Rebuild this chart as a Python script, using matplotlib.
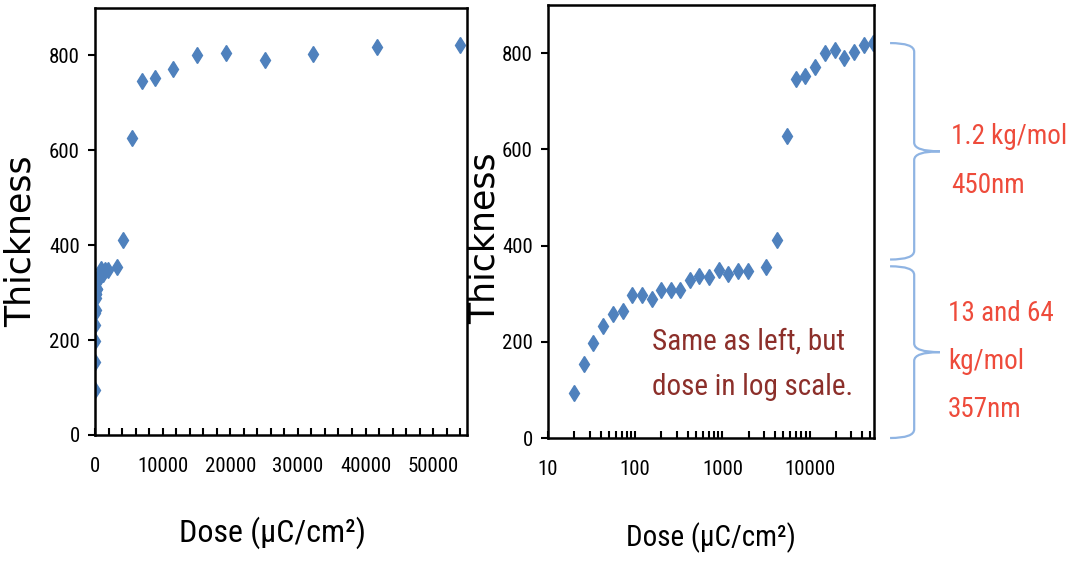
import numpy as np
from matplotlib import pyplot as plt
from matplotlib import font_manager
from matplotlib.font_manager import FontProperties
from matplotlib.ft2font import FT2Font
from matplotlib.path import Path
from matplotlib.patches import PathPatch
from matplotlib.ticker import MultipleLocator, FixedLocator, LogLocator, NullFormatter
from matplotlib.transforms import blended_transform_factory

# dose (uC/cm^2) and remaining film thickness (nm)
dose = [20, 26, 33, 43, 56, 72, 92, 120, 155, 200, 255, 330, 425, 545, 700,
        910, 1170, 1500, 1950, 3200, 4200, 5450, 6950, 8900, 11600, 15100,
        19400, 25100, 32300, 41700, 54000]
thickness = [94, 153, 198, 232, 257, 264, 298, 298, 288, 307, 307, 307, 328,
             337, 334, 350, 340, 347, 347, 355, 411, 627, 746, 752, 772, 801,
             806, 791, 802, 818, 821]

y_ticks = [0, 200, 400, 600, 800]
lin_ticks = [0, 10000, 20000, 30000, 40000, 50000]
log_ticks = [10, 100, 1000, 10000]

# step heights named in the side notes
low_step = 357
high_step = 450
low_note = "13 and 64\nkg/mol\n357nm"
high_note = "1.2 kg/mol\n450nm"

blue = "#4F81BD"
brace_blue = "#8FB4E3"
note_red = "#EE4B3B"
dark_red = "#8C2F2A"


def narrow_font():
    # narrowest upright regular condensed sans with the glyphs we need
    families = ("Roboto", "Noto Sans", "Open Sans", "Lato", "Liberation Sans",
                "DejaVu Sans")
    best, best_ratio = None, None
    for f in font_manager.fontManager.ttflist:
        if f.stretch != "condensed" or f.style != "normal":
            continue
        if not f.name.startswith(families):
            continue
        if "mono" in f.name.lower() or "mono" in f.fname.lower():
            continue
        w = f.weight
        if isinstance(w, str):
            w = font_manager.weight_dict.get(w, 400)
        if w != 400:
            continue
        try:
            ft = FT2Font(f.fname)
            if ft.get_char_index(0x3BC) == 0 or ft.get_char_index(0xB2) == 0:
                continue
            ft.set_size(100, 72)
            ft.set_text("800")
            fw, fh = ft.get_width_height()
        except Exception:
            continue
        ratio = fw / fh
        if best_ratio is None or ratio < best_ratio:
            best, best_ratio = f.fname, ratio
    if best:
        return FontProperties(fname=best)
    return FontProperties(family="Liberation Sans")


narrow = narrow_font()


def style_axes(ax, label_size):
    for s in ax.spines.values():
        s.set_linewidth(1.8)
    ax.set_ylim(0, 900)
    ax.yaxis.set_major_locator(FixedLocator(y_ticks))
    ax.tick_params(axis="y", direction="out", length=5, width=1.5, pad=6)
    ax.tick_params(axis="x", which="both", direction="in", length=5, width=1.5,
                   pad=16)
    for lab in ax.get_xticklabels() + ax.get_yticklabels():
        lab.set_fontproperties(narrow)
        lab.set_fontsize(15)
    ax.set_xlabel("Dose (\u03bcC/cm\u00b2)", fontproperties=narrow,
                  fontsize=label_size)
    ax.set_ylabel("Thickness", family="DejaVu Sans", fontsize=25)
    ax.yaxis.label.set_va("center")


def brace(ax, y0, y1, x_end, x_body, x_tip, r):
    ym = (y0 + y1) / 2
    verts = [(x_end, y1), (x_body, y1), (x_body, y1 - r),
             (x_body, ym + r), (x_body, ym), (x_tip, ym),
             (x_body, ym), (x_body, ym - r),
             (x_body, y0 + r), (x_body, y0), (x_end, y0)]
    codes = [Path.MOVETO, Path.CURVE3, Path.CURVE3,
             Path.LINETO, Path.CURVE3, Path.CURVE3,
             Path.CURVE3, Path.CURVE3,
             Path.LINETO, Path.CURVE3, Path.CURVE3]
    tr = blended_transform_factory(ax.transAxes, ax.transData)
    ax.add_patch(PathPatch(Path(verts, codes), fill=False, edgecolor=brace_blue,
                           linewidth=1.6, transform=tr, clip_on=False))


fig = plt.figure(figsize=(10.75, 5.63), dpi=100)
ax1 = fig.add_axes([0.0884, 0.2274, 0.346, 0.7584])
ax2 = fig.add_axes([0.5098, 0.222, 0.3033, 0.769])

# linear dose
ax1.plot(dose, thickness, linestyle="none", marker="d", markersize=8,
         color=blue, markeredgecolor=blue)
ax1.set_xlim(0, 55000)
ax1.xaxis.set_major_locator(FixedLocator(lin_ticks))
ax1.xaxis.set_minor_locator(MultipleLocator(2000))
style_axes(ax1, 23)
ax1.xaxis.set_label_coords(0.476, -0.19)
ax1.yaxis.set_label_coords(-0.199, 0.454)

# log dose
ax2.plot(dose, thickness, linestyle="none", marker="d", markersize=8,
         color=blue, markeredgecolor=blue)
ax2.set_xscale("log")
ax2.set_xlim(10, 55000)
ax2.xaxis.set_major_locator(FixedLocator(log_ticks))
ax2.xaxis.set_minor_locator(LogLocator(base=10, subs=np.arange(2, 10)))
ax2.xaxis.set_minor_formatter(NullFormatter())
ax2.set_xticklabels([str(t) for t in log_ticks])
style_axes(ax2, 21)
ax2.xaxis.set_label_coords(0.5, -0.195)
ax2.yaxis.set_label_coords(-0.195, 0.462)

ax2.text(156, 230, "Same as left, but\ndose in log scale.", fontproperties=narrow,
         fontsize=21, color=dark_red, ha="left", va="top", linespacing=1.78)

# side braces and notes
top = max(thickness)
brace(ax2, top - high_step, top, 1.049, 1.123, 1.202, 18)
brace(ax2, low_step - low_step, low_step, 1.049, 1.123, 1.202, 18)
tr = blended_transform_factory(ax2.transAxes, ax2.transData)
ax2.text(1.236, 655, high_note, transform=tr, fontproperties=narrow,
         fontsize=19.5, color=note_red, ha="left", va="top", linespacing=2.05,
         clip_on=False)
ax2.text(1.227, 287, low_note, transform=tr, fontproperties=narrow,
         fontsize=19.5, color=note_red, ha="left", va="top", linespacing=2.0,
         clip_on=False)

fig.savefig("out.png", dpi=100)
